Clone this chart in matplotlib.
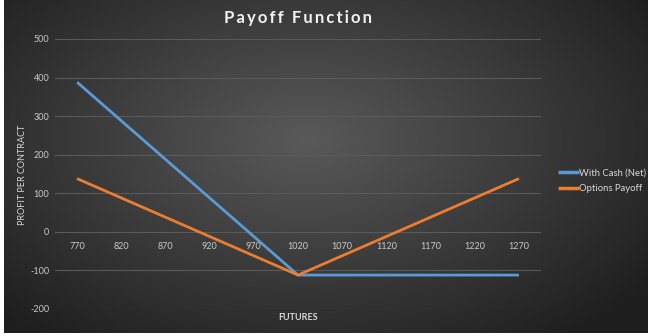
import numpy as np
import matplotlib
matplotlib.use("Agg")
from matplotlib import pyplot as plt

# data
futures = ["770", "820", "870", "920", "970", "1020", "1070", "1120", "1170", "1220", "1270"]
with_cash_net = [388, 288, 188, 88, -12, -112, -112, -112, -112, -112, -112]
options_payoff = [138, 88, 38, -12, -62, -112, -62, -12, 38, 88, 138]
y_ticks = [-200, -100, 0, 100, 200, 300, 400, 500]

BLUE = "#5b9bd5"
ORANGE = "#ed7d31"
TICK_COLOR = "#c9c9c9"
GRID_COLOR = "#5a5a5a"

plt.rcParams["font.family"] = ["Lato", "DejaVu Sans"]

fig = plt.figure(figsize=(6.54, 3.36), dpi=100, facecolor="white")

# dark radial-gradient chart background (Excel dark style)
bg = fig.add_axes([4 / 654, 3 / 336, 644 / 654, 333 / 336])
bg.set_axis_off()
gx, gy = np.meshgrid(np.linspace(0, 1, 300), np.linspace(0, 1, 160))
dist = np.sqrt(((gx - 0.47) / 0.75) ** 2 + ((gy - 0.42) / 0.85) ** 2)
shade = np.clip(0.35 - 0.26 * dist, 0.12, 0.35)
bg.imshow(np.dstack([shade, shade, shade]), aspect="auto", extent=(0, 1, 0, 1), zorder=0)

ax = fig.add_axes([55 / 654, 1 - 309 / 336, 486 / 654, 270 / 336])
ax.patch.set_alpha(0)
x = np.arange(len(futures))
ax.plot(x, with_cash_net, color=BLUE, lw=2.0, label="With Cash (Net)", solid_capstyle="butt", zorder=3)
ax.plot(x, options_payoff, color=ORANGE, lw=2.0, label="Options Payoff", solid_capstyle="butt", zorder=3)

ax.set_xlim(-0.5, len(futures) - 0.5)
ax.set_ylim(-200, 500)
ax.set_yticks(y_ticks)
ax.set_yticklabels([str(v) for v in y_ticks])
ax.set_xticks(x)
ax.set_xticklabels(futures)
ax.grid(axis="y", color=GRID_COLOR, lw=0.8)
ax.set_axisbelow(True)
for side in ["top", "right", "left"]:
    ax.spines[side].set_visible(False)
ax.spines["bottom"].set_position(("data", 0))
ax.spines["bottom"].set_visible(False)
ax.tick_params(axis="both", length=0, labelsize=6.5, colors=TICK_COLOR)
ax.tick_params(axis="x", pad=7)
ax.tick_params(axis="y", pad=4)

fig.text(298 / 654, 1 - 317 / 336, "FUTURES", ha="center", va="center",
         fontsize=6.5, fontweight="bold", color="#d9d9d9")
fig.text(23 / 654, 1 - 175 / 336, "PROFIT PER CONTRACT", ha="center", va="center",
         rotation=90, fontsize=6.5, color="#d9d9d9")
# letter-spaced title, as in the reference
title = "\u2009".join("Payoff") + "\u2009\u2009 " + "\u2009".join("Function")
fig.text(298 / 654, 1 - 18 / 336, title, ha="center", va="center",
         fontsize=12, fontweight="bold", color="#f2f2f2")

leg = ax.legend(loc="center left", bbox_to_anchor=(553 / 654, 1 - 181 / 336),
                bbox_transform=fig.transFigure, frameon=False, fontsize=6.8,
                handlelength=2.2, handletextpad=0.1, labelspacing=0.7, borderpad=0)
for t in leg.get_texts():
    t.set_color("#d9d9d9")
for h in leg.get_lines():
    h.set_linewidth(2.5)

fig.savefig("out.png", dpi=100, facecolor="white")
